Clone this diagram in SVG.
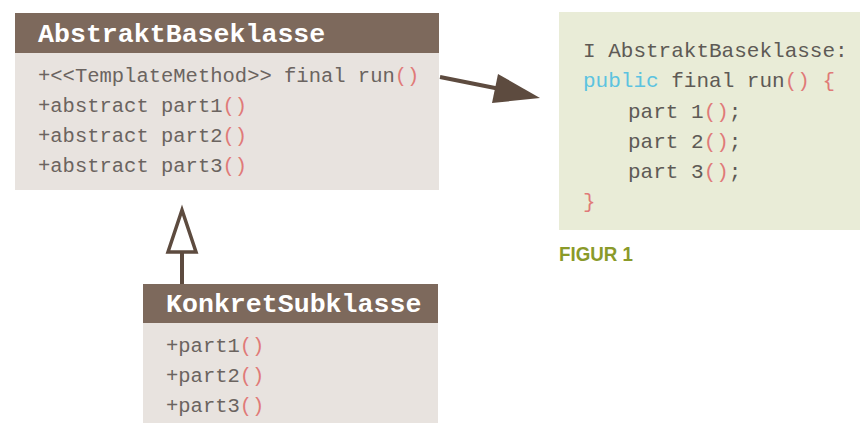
<svg xmlns="http://www.w3.org/2000/svg" width="860" height="423" viewBox="0 0 860 423">
<style>
.hdr{fill:#7d695c}
.body{fill:#e8e3df}
.ht{font-family:"Liberation Mono","DejaVu Sans Mono",monospace;font-weight:bold;font-size:26.6px;fill:#ffffff}
.mt{font-family:"Liberation Mono","DejaVu Sans Mono",monospace;font-size:20.5px;fill:#6b6460}
.ct{font-family:"Liberation Mono","DejaVu Sans Mono",monospace;font-size:21px;fill:#5e5a55}
.p{fill:#e07a78}
.kw{fill:#5cc3e0}
.conn{stroke:#5d4b3f;stroke-width:4;fill:none}
</style>
<rect width="860" height="423" fill="#ffffff"/>
<g id="AbstraktBaseklasse">
<rect class="hdr" x="15" y="13" width="424" height="40"/>
<rect class="body" x="15" y="53" width="424" height="137"/>
<text class="ht" x="38" y="42">AbstraktBaseklasse</text>
<text class="mt" x="38" y="82">+&lt;&lt;TemplateMethod&gt;&gt; final run<tspan class="p">()</tspan></text>
<text class="mt" x="38" y="112">+abstract part1<tspan class="p">()</tspan></text>
<text class="mt" x="38" y="142">+abstract part2<tspan class="p">()</tspan></text>
<text class="mt" x="38" y="172">+abstract part3<tspan class="p">()</tspan></text>
</g>
<g id="KonkretSubklasse">
<rect class="hdr" x="143" y="284" width="295" height="39"/>
<rect class="body" x="143" y="323" width="295" height="100"/>
<text class="ht" x="166" y="312">KonkretSubklasse</text>
<text class="mt" x="166" y="352">+part1<tspan class="p">()</tspan></text>
<text class="mt" x="166" y="382">+part2<tspan class="p">()</tspan></text>
<text class="mt" x="166" y="412">+part3<tspan class="p">()</tspan></text>
</g>
<g id="code">
<rect x="559" y="12" width="301" height="218" fill="#e9ecd7"/>
<text class="ct" x="583" y="57">I AbstraktBaseklasse:</text>
<text class="ct" x="583" y="87"><tspan class="kw">public</tspan> final run<tspan class="p">()</tspan> <tspan class="p">{</tspan></text>
<text class="ct" x="628" y="118">part 1<tspan class="p">()</tspan>;</text>
<text class="ct" x="628" y="148">part 2<tspan class="p">()</tspan>;</text>
<text class="ct" x="628" y="178">part 3<tspan class="p">()</tspan>;</text>
<text class="ct" x="583" y="208"><tspan class="p">}</tspan></text>
</g>
<g id="caption">
<text x="559" y="261" font-family="'Liberation Sans',Arial,sans-serif" font-weight="bold" font-size="20" fill="#8a9a2a" textLength="74" lengthAdjust="spacingAndGlyphs">FIGUR 1</text>
</g>
<g id="connectors">
<line class="conn" x1="440" y1="77" x2="500" y2="89"/>
<polygon points="498,74 540,98 492,103" fill="#5d4b3f"/>
<line class="conn" x1="182" y1="284" x2="182" y2="252"/>
<polygon points="182,210 168,252 196,252" fill="#ffffff" stroke="#5d4b3f" stroke-width="3.5"/>
</g>
</svg>
